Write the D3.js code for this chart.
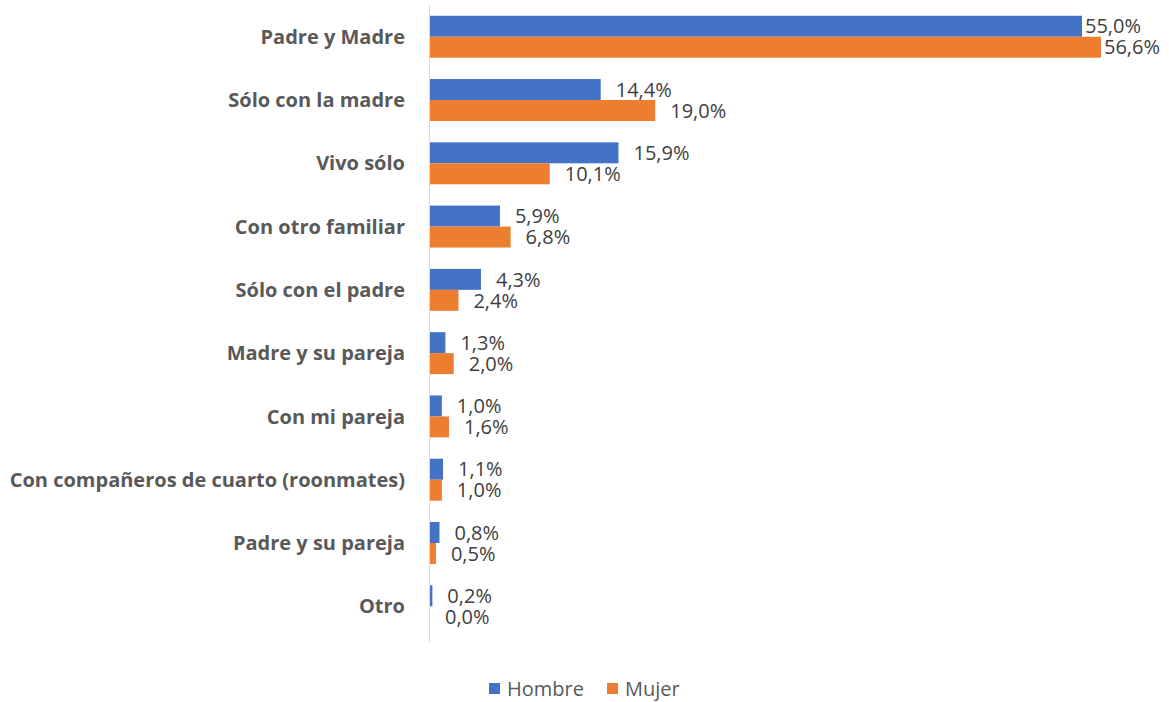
<!DOCTYPE html>
<html>
<head>
<meta charset="utf-8">
<script src="https://cdn.jsdelivr.net/npm/d3@7"></script>
<style>
  body { margin: 0; background: #fff; }
  text { font-family: "Open Sans", Lato, sans-serif; }
</style>
</head>
<body>
<div id="chart"></div>
<script>
// Data
var categories = ["Padre y Madre", "Sólo con la madre", "Vivo sólo", "Con otro familiar",
  "Sólo con el padre", "Madre y su pareja", "Con mi pareja",
  "Con compañeros de cuarto (roonmates)", "Padre y su pareja", "Otro"];
var seriesNames = ["Hombre", "Mujer"];
var hombre = [55.0, 14.4, 15.9, 5.9, 4.3, 1.3, 1.0, 1.1, 0.8, 0.2];
var mujer = [56.6, 19.0, 10.1, 6.8, 2.4, 2.0, 1.6, 1.0, 0.5, 0.0];
var colors = ["#4472C4", "#ED7D31"];

var W = 1169, H = 702;
var margin = {top: 5, right: 87, bottom: 64, left: 430};

var svg = d3.select("#chart").append("svg")
  .attr("width", W)
  .attr("height", H);

var x = d3.scaleLinear()
  .domain([0, 55])
  .range([margin.left, 1082]);

var y = d3.scaleBand()
  .domain(categories)
  .range([margin.top, H - margin.bottom])
  .paddingInner(0.337)
  .paddingOuter(0.17);

var y1 = d3.scaleBand()
  .domain(seriesNames)
  .range([0, y.bandwidth()]);

var rows = categories.map(function(c, i) {
  return {cat: c, values: [hombre[i], mujer[i]]};
});

// bars
var g = svg.append("g");
var groups = g.selectAll(".grp")
  .data(rows)
  .enter().append("g")
    .attr("class", "grp")
    .attr("transform", function(d) { return "translate(0," + y(d.cat) + ")"; });

groups.selectAll("rect")
  .data(function(d) { return d.values.map(function(v, j) { return {v: v, s: seriesNames[j], j: j}; }); })
  .enter().append("rect")
    .attr("x", x(0))
    .attr("y", function(d) { return y1(d.s); })
    .attr("width", function(d) { return x(d.v) - x(0); })
    .attr("height", y1.bandwidth())
    .attr("fill", function(d) { return colors[d.j]; });

// value labels
groups.selectAll(".val")
  .data(function(d) { return d.values.map(function(v, j) { return {v: v, s: seriesNames[j], j: j}; }); })
  .enter().append("text")
    .attr("class", "val")
    .attr("y", function(d) { return y1(d.s) + y1.bandwidth() / 2; })
    .attr("dy", "0.36em")
    .attr("fill", "#404040")
    .style("font-size", "20px")
    .text(function(d) { return d.v.toFixed(1).replace(".", ",") + "%"; })
    .attr("x", function(d) {
      var w = this.getComputedTextLength();
      var off = (x(d.v) + 15 + w > 1150) ? 3 : 15;
      return x(d.v) + off;
    });

// y axis line
svg.append("line")
  .attr("x1", x(0) - 0.5).attr("x2", x(0) - 0.5)
  .attr("y1", margin.top).attr("y2", H - margin.bottom + 4)
  .attr("stroke", "#d9d9d9")
  .attr("stroke-width", 1);

// category labels
svg.selectAll(".cat")
  .data(categories)
  .enter().append("text")
    .attr("class", "cat")
    .attr("x", 405)
    .attr("y", function(d) { return y(d) + y.bandwidth() / 2; })
    .attr("dy", "0.36em")
    .attr("text-anchor", "end")
    .attr("fill", "#595959")
    .style("font-size", "20px")
    .style("font-weight", "bold")
    .text(function(d) { return d; });

// legend
var legendX = [489, 607];
var legend = svg.selectAll(".leg")
  .data(seriesNames)
  .enter().append("g")
    .attr("class", "leg")
    .attr("transform", function(d, i) { return "translate(" + legendX[i] + ",683)"; });

legend.append("rect")
  .attr("width", 11).attr("height", 11)
  .attr("fill", function(d, i) { return colors[i]; });

legend.append("text")
  .attr("x", 18)
  .attr("y", 5.5)
  .attr("dy", "0.36em")
  .attr("fill", "#595959")
  .style("font-size", "20px")
  .text(function(d) { return d; });
</script>
</body>
</html>
